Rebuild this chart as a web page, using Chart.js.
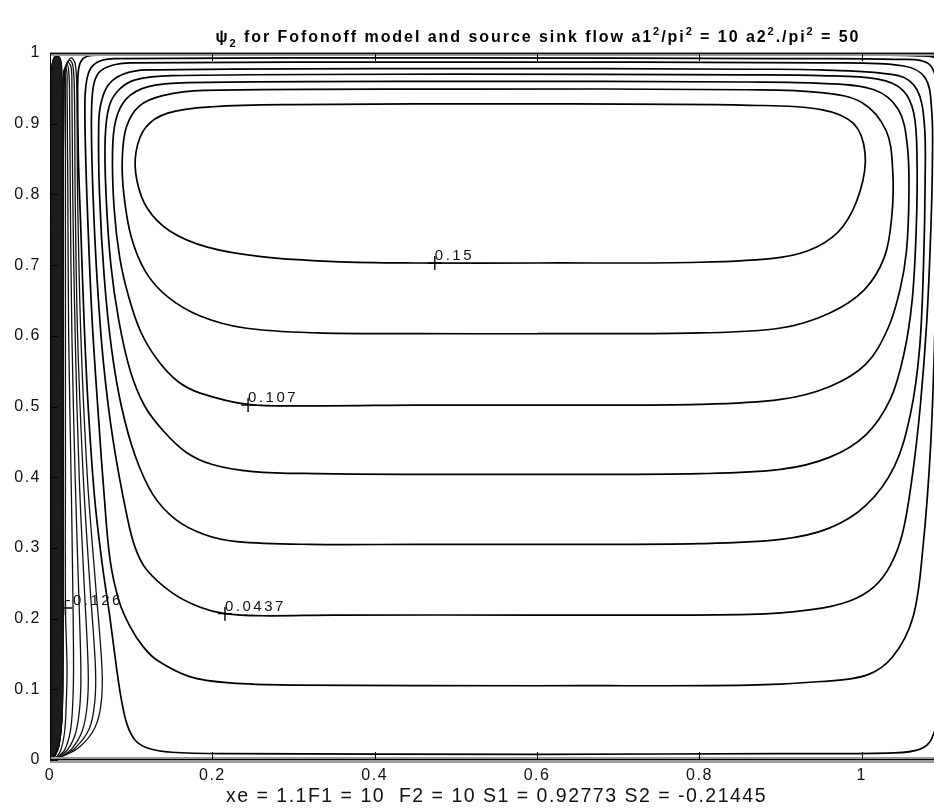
<!DOCTYPE html>
<html><head><meta charset="utf-8">
<script src="https://cdn.jsdelivr.net/npm/chart.js@4/dist/chart.umd.min.js"></script>
<style>
html,body{margin:0;padding:0;overflow:hidden;background:#fff;width:934px;height:808px}
#wrap{position:absolute;left:0;top:0;width:960px;height:808px}
</style></head>
<body><div id="wrap"><canvas id="c" width="960" height="808" style="width:960px;height:808px"></canvas></div>
<script>
// title pieces: [text, mode] mode: '' normal, 'sub' subscript, 'sup' superscript
const titleParts = [['ψ', ''], ['2', 'sub'], [' for Fofonoff model and source sink flow a1', ''], ['2', 'sup'], ['/pi', ''], ['2', 'sup'], [' = 10 a2', ''], ['2', 'sup'], ['./pi', ''], ['2', 'sup'], [' = 50', '']];
const xLabelText = 'xe = 1.1F1 = 10  F2 = 10 S1 = 0.92773 S2 = -0.21445';
const xTicks = [0, 0.2, 0.4, 0.6, 0.8, 1];
const yTicks = [0, 0.1, 0.2, 0.3, 0.4, 0.5, 0.6, 0.7, 0.8, 0.9, 1];
const xMin = 0, xMax = 1.1, yMin = 0, yMax = 1;

// closed gyre contours (outermost c1 ... innermost c8), [x, y]
const c1 = [[0.6,0.008],[0.9,0.009],[1.04,0.01],[1.071,0.015],[1.086,0.03],[1.094,0.07],[1.098,0.2],[1.099,0.6],[1.099,0.95],[1.095,0.99],[1.07,0.996],[0.9,0.997],[0.5,0.998],[0.06,0.997],[0.045,0.995],[0.038,0.988],[0.035,0.975],[0.034,0.95],[0.035,0.85],[0.038,0.75],[0.042,0.62],[0.047,0.5],[0.055,0.37],[0.064,0.28],[0.074,0.2],[0.082,0.13],[0.088,0.085],[0.095,0.05],[0.105,0.028],[0.12,0.017],[0.15,0.011],[0.22,0.009],[0.6,0.008]];
const c2 = [[0.6,0.105],[0.862,0.106],[0.95,0.111],[1.006,0.12],[1.038,0.146],[1.063,0.202],[1.075,0.297],[1.085,0.45],[1.091,0.65],[1.094,0.85],[1.093,0.95],[1.082,0.985],[1.04,0.991],[0.9,0.992],[0.5,0.993],[0.08,0.992],[0.06,0.988],[0.05,0.978],[0.045,0.96],[0.043,0.93],[0.044,0.85],[0.047,0.75],[0.052,0.62],[0.06,0.48],[0.067,0.37],[0.074,0.283],[0.085,0.225],[0.099,0.188],[0.115,0.16],[0.132,0.141],[0.172,0.118],[0.222,0.109],[0.3,0.106],[0.6,0.105]];
const c3 = [[0.6,0.205],[0.862,0.206],[0.94,0.213],[0.985,0.225],[1.015,0.245],[1.035,0.275],[1.05,0.32],[1.062,0.4],[1.072,0.5],[1.08,0.62],[1.085,0.75],[1.087,0.85],[1.086,0.92],[1.078,0.965],[1.05,0.982],[0.95,0.986],[0.5,0.987],[0.1,0.986],[0.075,0.982],[0.06,0.972],[0.053,0.95],[0.051,0.9],[0.053,0.8],[0.058,0.68],[0.066,0.56],[0.078,0.45],[0.095,0.344],[0.105,0.3],[0.119,0.269],[0.151,0.236],[0.185,0.216],[0.2155,0.207],[0.26,0.204],[0.35,0.205],[0.6,0.205]];
const c4 = [[0.6,0.305],[0.8,0.306],[0.9,0.312],[0.96,0.328],[1.005,0.36],[1.04,0.415],[1.06,0.49],[1.071,0.58],[1.076,0.7],[1.078,0.82],[1.077,0.9],[1.068,0.948],[1.045,0.968],[0.95,0.976],[0.86,0.977],[0.5,0.978],[0.12,0.976],[0.09,0.97],[0.072,0.955],[0.063,0.93],[0.06,0.9],[0.061,0.8],[0.067,0.68],[0.076,0.58],[0.088,0.5],[0.105,0.43],[0.127,0.375],[0.155,0.34],[0.19,0.319],[0.23,0.309],[0.32,0.305],[0.45,0.305],[0.6,0.305]];
const c5 = [[0.6,0.404],[0.8,0.405],[0.9,0.411],[0.96,0.428],[1.005,0.46],[1.035,0.51],[1.052,0.575],[1.062,0.65],[1.067,0.75],[1.068,0.85],[1.064,0.915],[1.05,0.948],[1.02,0.963],[0.95,0.968],[0.86,0.969],[0.5,0.97],[0.15,0.968],[0.105,0.962],[0.085,0.948],[0.073,0.925],[0.068,0.88],[0.069,0.8],[0.075,0.7],[0.085,0.62],[0.099,0.55],[0.117,0.5],[0.14,0.465],[0.168,0.435],[0.2,0.418],[0.25,0.408],[0.33,0.405],[0.45,0.404],[0.6,0.404]];
const c6 = [[0.6,0.502],[0.8,0.503],[0.9,0.51],[0.96,0.528],[1.005,0.56],[1.032,0.61],[1.047,0.665],[1.055,0.72],[1.058,0.8],[1.056,0.87],[1.045,0.92],[1.015,0.948],[0.95,0.957],[0.86,0.959],[0.5,0.96],[0.17,0.958],[0.12,0.952],[0.094,0.935],[0.081,0.905],[0.077,0.86],[0.079,0.78],[0.086,0.71],[0.097,0.655],[0.112,0.605],[0.133,0.565],[0.158,0.535],[0.185,0.519],[0.244,0.503],[0.33,0.501],[0.45,0.502],[0.6,0.502]];
const c7 = [[0.6,0.603],[0.8,0.604],[0.9,0.611],[0.96,0.632],[1.003,0.665],[1.028,0.712],[1.037,0.77],[1.038,0.835],[1.03,0.89],[1.0,0.93],[0.95,0.944],[0.86,0.948],[0.5,0.949],[0.19,0.947],[0.14,0.94],[0.11,0.925],[0.094,0.895],[0.089,0.85],[0.091,0.8],[0.1,0.74],[0.118,0.69],[0.145,0.655],[0.185,0.628],[0.24,0.611],[0.33,0.604],[0.45,0.603],[0.6,0.603]];
const c8 = [[0.6,0.703],[0.8,0.704],[0.9,0.711],[0.945,0.726],[0.977,0.755],[0.998,0.805],[1.004,0.858],[0.99,0.9],[0.95,0.92],[0.862,0.926],[0.6,0.928],[0.3,0.927],[0.2,0.924],[0.145,0.915],[0.118,0.895],[0.106,0.86],[0.107,0.82],[0.12,0.78],[0.148,0.748],[0.195,0.725],[0.26,0.712],[0.35,0.705],[0.45,0.703],[0.6,0.703]];

// western boundary-layer loops anchored at the corner
const f1 = [[0.004,0.001],[0.011,0.02],[0.015,0.07],[0.016,0.3],[0.016,0.7],[0.017,0.95],[0.02,0.982],[0.026,0.993],[0.031,0.985],[0.033,0.95],[0.034,0.8],[0.038,0.6],[0.046,0.4],[0.056,0.25],[0.064,0.13],[0.063,0.08],[0.055,0.045],[0.036,0.018],[0.015,0.005],[0.004,0.001]];
const f2 = [[0.004,0.001],[0.011,0.02],[0.015,0.07],[0.016,0.3],[0.016,0.7],[0.017,0.95],[0.019,0.98],[0.024,0.99],[0.028,0.983],[0.03,0.95],[0.031,0.8],[0.034,0.6],[0.041,0.4],[0.049,0.25],[0.056,0.13],[0.055,0.08],[0.048,0.043],[0.031,0.017],[0.014,0.005],[0.004,0.001]];
const f3 = [[0.004,0.001],[0.011,0.02],[0.015,0.07],[0.016,0.3],[0.016,0.7],[0.017,0.95],[0.019,0.977],[0.022,0.987],[0.026,0.98],[0.027,0.95],[0.028,0.8],[0.031,0.6],[0.036,0.4],[0.042,0.25],[0.047,0.13],[0.046,0.08],[0.04,0.042],[0.027,0.016],[0.012,0.004],[0.004,0.001]];
const f4 = [[0.004,0.001],[0.01,0.02],[0.014,0.07],[0.016,0.3],[0.016,0.7],[0.017,0.95],[0.018,0.975],[0.021,0.984],[0.023,0.975],[0.024,0.95],[0.025,0.8],[0.027,0.6],[0.031,0.4],[0.035,0.25],[0.038,0.13],[0.037,0.08],[0.032,0.04],[0.022,0.015],[0.01,0.004],[0.004,0.001]];
const f5 = [[0.004,0.001],[0.01,0.02],[0.013,0.07],[0.015,0.3],[0.016,0.7],[0.016,0.95],[0.017,0.972],[0.019,0.98],[0.021,0.97],[0.021,0.95],[0.022,0.8],[0.023,0.6],[0.026,0.4],[0.028,0.25],[0.029,0.13],[0.028,0.08],[0.025,0.04],[0.018,0.014],[0.009,0.004],[0.004,0.001]];
const f6 = [[0.004,0.001],[0.009,0.02],[0.012,0.07],[0.014,0.3],[0.015,0.7],[0.016,0.95],[0.0165,0.97],[0.0175,0.976],[0.019,0.965],[0.019,0.95],[0.019,0.8],[0.019,0.6],[0.019,0.4],[0.019,0.215],[0.021,0.13],[0.02,0.08],[0.018,0.04],[0.013,0.013],[0.007,0.003],[0.004,0.001]];
const d1 = [[0.001,0.0],[0.001,0.3],[0.001,0.7],[0.0015,0.97],[0.005,0.994],[0.011,0.995],[0.014,0.985],[0.015,0.95],[0.015,0.7],[0.015,0.3],[0.016,0.1],[0.013,0.04],[0.007,0.012],[0.001,0.0]];
const d2 = [[0.001,0.0],[0.001,0.5],[0.0015,0.965],[0.004,0.99],[0.009,0.992],[0.0115,0.98],[0.012,0.95],[0.012,0.5],[0.013,0.1],[0.011,0.035],[0.006,0.01],[0.001,0.0]];
const d3 = [[0.001,0.0],[0.001,0.5],[0.0015,0.96],[0.004,0.987],[0.007,0.99],[0.0088,0.975],[0.009,0.95],[0.009,0.5],[0.01,0.1],[0.008,0.03],[0.004,0.008],[0.001,0.0]];
const d4 = [[0.001,0.0],[0.0012,0.5],[0.002,0.96],[0.0035,0.985],[0.0055,0.975],[0.006,0.95],[0.006,0.5],[0.007,0.1],[0.005,0.025],[0.002,0.006],[0.001,0.0]];

const contourLines = [c1, c2, c3, c4, c5, c6, c7, c8];
const boundaryLines = [d2, d3, d4, f6, f5, f4, f3, f2, f1];

// contour labels
const labelText = ['0.15', '0.107', '0.0437', '-0.126'];
const labelX = [0.474, 0.244, 0.2155, 0.019];
const labelY = [0.703, 0.502, 0.207, 0.215];

const FONT = '"Liberation Sans", Arial, Helvetica, sans-serif';

const datasets = [];
datasets.push({data: d1, showLine: true, borderColor: '#111', borderWidth: 1.3, pointRadius: 0, tension: 0.35, fill: 'shape', backgroundColor: '#1c1c1c'});
boundaryLines.forEach(d => datasets.push({data: d, showLine: true, borderColor: '#111', borderWidth: 1.3, pointRadius: 0, tension: 0.35, fill: false}));
contourLines.forEach(d => datasets.push({data: d, showLine: true, borderColor: '#000', borderWidth: 1.7, pointRadius: 0, tension: 0.35, fill: false}));
datasets.push({data: labelX.map((x, i) => ({x: x, y: labelY[i]})), showLine: false, pointStyle: 'cross', pointRadius: 7, borderColor: '#000', borderWidth: 1.4, backgroundColor: '#000'});

const decor = {
  id: 'decor',
  beforeDraw(chart) { chart.ctx.letterSpacing = '1.5px'; },
  afterDatasetsDraw(chart) {
    const ctx = chart.ctx, a = chart.chartArea, xs = chart.scales.x, ys = chart.scales.y;
    ctx.save();
    ctx.fillStyle = '#9a9a9a';
    ctx.fillRect(a.left, a.bottom - 3, a.right - a.left, 6);
    ctx.fillRect(a.left, a.top - 1, a.right - a.left, 4);
    ctx.strokeStyle = '#000';
    ctx.lineWidth = 1;
    ctx.strokeRect(a.left + 0.5, a.top + 0.5, a.right - a.left - 1, a.bottom - a.top - 1);
    ctx.beginPath();
    xTicks.forEach(v => {
      const p = Math.round(xs.getPixelForValue(v)) + 0.5;
      ctx.moveTo(p, a.bottom); ctx.lineTo(p, a.bottom - 8);
      ctx.moveTo(p, a.top); ctx.lineTo(p, a.top + 8);
    });
    yTicks.forEach(v => {
      const p = Math.round(ys.getPixelForValue(v)) + 0.5;
      ctx.moveTo(a.left, p); ctx.lineTo(a.left + 8, p);
      ctx.moveTo(a.right, p); ctx.lineTo(a.right - 8, p);
    });
    ctx.stroke();
    ctx.fillStyle = '#111';
    ctx.font = '15px ' + FONT;
    ctx.letterSpacing = '2.5px';
    ctx.textAlign = 'left';
    ctx.textBaseline = 'alphabetic';
    labelText.forEach((t, i) => {
      ctx.fillText(t, xs.getPixelForValue(labelX[i]), ys.getPixelForValue(labelY[i]) - 3);
    });
    ctx.restore();
  },
  afterDraw(chart) {
    const ctx = chart.ctx, a = chart.chartArea;
    ctx.save();
    ctx.fillStyle = '#000';
    ctx.letterSpacing = '1.95px';
    ctx.textAlign = 'left';
    ctx.textBaseline = 'alphabetic';
    const big = 'bold 16px ' + FONT, small = 'bold 11px ' + FONT;
    let total = 0;
    titleParts.forEach(p => { ctx.font = p[1] ? small : big; total += ctx.measureText(p[0]).width; });
    let x = a.left + 488 - total / 2;
    const base = 42;
    titleParts.forEach(p => {
      ctx.font = p[1] ? small : big;
      const dy = p[1] === 'sub' ? 5 : (p[1] === 'sup' ? -7 : 0);
      ctx.fillText(p[0], x, base + dy);
      x += ctx.measureText(p[0]).width;
    });
    ctx.restore();
  }
};

const fmt = v => String(Number(v.toFixed(2)));

new Chart(document.getElementById('c'), {
  type: 'scatter',
  data: {datasets: datasets},
  options: {
    responsive: false,
    animation: false,
    devicePixelRatio: 1,
    events: [],
    layout: {padding: {top: 53, right: 17, left: 0, bottom: 0}},
    plugins: {legend: {display: false}, tooltip: {enabled: false}, title: {display: false}},
    scales: {
      x: {
        type: 'linear', min: xMin, max: xMax,
        afterBuildTicks: s => { s.ticks = xTicks.map(v => ({value: v})); },
        afterFit: s => { s.height = 48; },
        grid: {display: false, drawTicks: false}, border: {display: false},
        ticks: {callback: v => fmt(v), font: {family: FONT, size: 16}, color: '#111', padding: 6, autoSkip: false, maxRotation: 0},
        title: {display: true, text: xLabelText, font: {family: FONT, size: 19.5}, color: '#111', padding: {top: 0, bottom: 0}}
      },
      y: {
        type: 'linear', min: yMin, max: yMax,
        afterBuildTicks: s => { s.ticks = yTicks.map(v => ({value: v})); },
        afterFit: s => { s.width = 50; },
        grid: {display: false, drawTicks: false}, border: {display: false},
        ticks: {callback: v => fmt(v), font: {family: FONT, size: 16}, color: '#111', padding: 9, autoSkip: false}
      }
    }
  },
  plugins: [decor]
});
</script>
</body></html>
